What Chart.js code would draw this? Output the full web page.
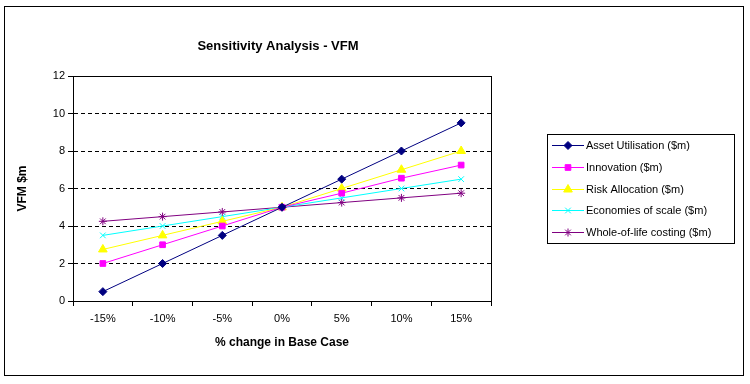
<!DOCTYPE html>
<html>
<head>
<meta charset="utf-8">
<script src="https://cdn.jsdelivr.net/npm/chart.js@4"></script>
<style>
  body { margin: 0; background: #fff; }
  #wrap { position: relative; width: 750px; height: 384px; }
  #frame { position: absolute; left: 4px; top: 6px; width: 740px; height: 370px; border: 1px solid #000; box-sizing: border-box; pointer-events: none; }
</style>
</head>
<body>
<div id="wrap">
  <canvas id="chart" width="750" height="384"></canvas>
  <div id="frame"></div>
</div>
<script>
const categories = ['-15%', '-10%', '-5%', '0%', '5%', '10%', '15%'];
const assetUtilisation = [0.5, 2, 3.5, 5, 6.5, 8, 9.5];
const innovation = [2, 3, 4, 5, 5.75, 6.55, 7.25];
const riskAllocation = [2.75, 3.5, 4.25, 5, 6, 7, 8];
const economiesOfScale = [3.5, 4, 4.5, 5, 5.5, 6, 6.5];
const wholeOfLife = [4.25, 4.5, 4.75, 5, 5.25, 5.5, 5.75];

const FONT = 'Arial, "Liberation Sans", sans-serif';

const series = [
    { label: 'Asset Utilisation ($m)', data: assetUtilisation, color: '#000080', style: 'rectRot', radius: 4 },
    { label: 'Innovation ($m)', data: innovation, color: '#FF00FF', style: 'rect', radius: 4 },
    { label: 'Risk Allocation ($m)', data: riskAllocation, color: '#FFFF00', style: 'triangle', radius: 5 },
    { label: 'Economies of scale ($m)', data: economiesOfScale, color: '#00FFFF', style: 'crossRot', radius: 4 },
    { label: 'Whole-of-life costing ($m)', data: wholeOfLife, color: '#800080', style: 'star', radius: 4 }
];

// plot box, title and legend box
const decorations = {
    id: 'decorations',
    afterDraw(chart) {
        const ctx = chart.ctx;
        const a = chart.chartArea;
        ctx.save();
        ctx.strokeStyle = '#000';
        ctx.lineWidth = 1;
        ctx.strokeRect(Math.round(a.left) + 0.5, Math.round(a.top) + 0.5, Math.round(a.right - a.left), Math.round(a.bottom - a.top));

        ctx.fillStyle = '#000';
        ctx.font = 'bold 13px ' + FONT;
        ctx.textAlign = 'center';
        ctx.textBaseline = 'middle';
        ctx.fillText('Sensitivity Analysis - VFM', (a.left + a.right) / 2 - 4, 46);

        // legend
        const lx = 547, ly = 134, lw = 187, lh = 109;
        ctx.strokeStyle = '#000';
        ctx.strokeRect(lx + 0.5, ly + 0.5, lw, lh);
        ctx.font = '11px ' + FONT;
        ctx.textAlign = 'left';
        chart.data.datasets.forEach((ds, i) => {
            const y = Math.round(ly + 11 + i * 21.8) + 0.5;
            ctx.strokeStyle = ds.borderColor;
            ctx.fillStyle = ds.borderColor;
            ctx.lineWidth = 1;
            ctx.beginPath();
            ctx.moveTo(lx + 5, y);
            ctx.lineTo(lx + 37, y);
            ctx.stroke();
            Chart.helpers.drawPoint(ctx, {
                pointStyle: ds.pointStyle, radius: ds.pointRadius, borderWidth: 1, rotation: 0
            }, lx + 21, y);
            ctx.fillStyle = '#000';
            ctx.fillText(ds.label, lx + 39, y);
        });
        ctx.restore();
    }
};

new Chart(document.getElementById('chart'), {
    type: 'line',
    data: {
        labels: categories,
        datasets: series.map(s => ({
            label: s.label,
            data: s.data,
            borderColor: s.color,
            backgroundColor: s.color,
            borderWidth: 1,
            pointStyle: s.style,
            pointRadius: s.radius,
            pointHoverRadius: s.radius,
            pointBorderColor: s.color,
            pointBackgroundColor: s.color,
            tension: 0
        }))
    },
    options: {
        responsive: false,
        animation: false,
        events: [],
        layout: { padding: { left: 0, top: 76, right: 259, bottom: 0 } },
        plugins: {
            legend: { display: false },
            title: { display: false },
            tooltip: { enabled: false }
        },
        scales: {
            x: {
                type: 'category',
                offset: true,
                afterFit: scale => { scale.height = 83; },
                grid: { offset: true, drawOnChartArea: false, tickLength: 5, color: '#000' },
                border: { color: '#000' },
                ticks: { color: '#000', font: { family: FONT, size: 11 }, padding: 6, maxRotation: 0 },
                title: { display: true, text: '% change in Base Case', color: '#000', font: { family: FONT, size: 12, weight: 'bold' }, padding: { top: 0, bottom: 34 } }
            },
            y: {
                min: 0,
                max: 12,
                afterFit: scale => { scale.width = 73; },
                ticks: { stepSize: 2, color: '#000', font: { family: FONT, size: 11 }, padding: 3 },
                grid: {
                    color: c => (c.tick.value === 0 || c.tick.value === 12) ? 'rgba(0,0,0,0)' : '#000',
                    tickColor: '#000',
                    tickLength: 5,
                    tickBorderDash: []
                },
                border: { color: '#000', dash: [4, 3] },
                title: { display: true, text: 'VFM $m', color: '#000', font: { family: FONT, size: 12, weight: 'bold' }, padding: { top: 15, bottom: 0 } }
            }
        }
    },
    plugins: [decorations]
});
</script>
</body>
</html>
